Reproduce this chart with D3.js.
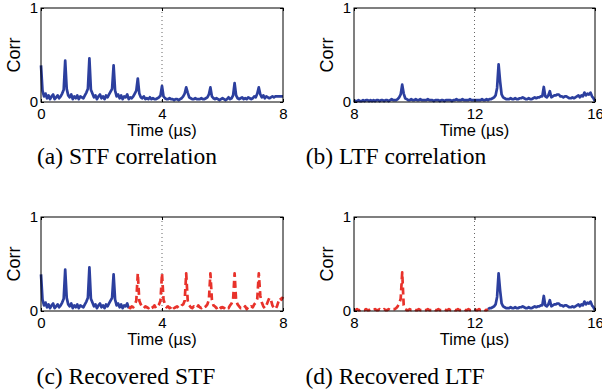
<!DOCTYPE html>
<html>
<head>
<meta charset="utf-8">
<script src="https://cdn.jsdelivr.net/npm/d3@7"></script>
<style>
  html, body { margin: 0; padding: 0; background: #fff; }
  svg { display: block; }
</style>
</head>
<body>
<div id="chart"></div>
<script>
// Sampling step of every series (µs)
const STEP = 0.05;

// STF correlation, t = 0 .. 8 µs
const stfCorr = [
  0.39, 0.12, 0.06, 0.09, 0.04, 0.07, 0.03, 0.06, 0.08, 0.03, 0.05, 0.07, 0.04, 0.06, 0.09, 0.13,
  0.44, 0.14, 0.07, 0.05, 0.08, 0.03, 0.06, 0.04, 0.07, 0.03, 0.06, 0.05, 0.04, 0.07, 0.10, 0.14,
  0.465, 0.13, 0.09, 0.05, 0.07, 0.03, 0.06, 0.08, 0.04, 0.06, 0.03, 0.07, 0.05, 0.08, 0.11, 0.14,
  0.39, 0.12, 0.06, 0.08, 0.04, 0.07, 0.03, 0.06, 0.05, 0.08, 0.03, 0.05, 0.04, 0.06, 0.09, 0.12,
  0.25, 0.09, 0.05, 0.04, 0.06, 0.03, 0.04, 0.03, 0.05, 0.03, 0.04, 0.03, 0.03, 0.04, 0.05, 0.07,
  0.17, 0.06, 0.04, 0.03, 0.03, 0.04, 0.03, 0.03, 0.02, 0.03, 0.03, 0.02, 0.03, 0.04, 0.06, 0.09,
  0.155, 0.10, 0.05, 0.04, 0.03, 0.03, 0.04, 0.03, 0.03, 0.03, 0.04, 0.03, 0.03, 0.04, 0.05, 0.08,
  0.155, 0.06, 0.04, 0.03, 0.04, 0.03, 0.02, 0.03, 0.04, 0.03, 0.02, 0.03, 0.05, 0.03, 0.04, 0.07,
  0.20, 0.07, 0.04, 0.03, 0.04, 0.05, 0.03, 0.04, 0.03, 0.05, 0.04, 0.03, 0.04, 0.06, 0.05, 0.09,
  0.155, 0.08, 0.05, 0.07, 0.04, 0.06, 0.05, 0.04, 0.05, 0.06, 0.05, 0.06, 0.06, 0.06, 0.06, 0.06,
  0.06
];

// LTF correlation, t = 8 .. 16 µs
const ltfCorr = [
  0.02, 0.01, 0.01, 0.02, 0.01, 0.01, 0.02, 0.01, 0.02, 0.02, 0.01, 0.02, 0.01, 0.02, 0.01, 0.02,
  0.02, 0.01, 0.02, 0.02, 0.01, 0.02, 0.02, 0.01, 0.02, 0.03, 0.02, 0.02, 0.02, 0.03, 0.05, 0.08,
  0.185, 0.09, 0.04, 0.03, 0.02, 0.02, 0.03, 0.02, 0.02, 0.03, 0.02, 0.02, 0.03, 0.02, 0.02, 0.02,
  0.02, 0.03, 0.02, 0.02, 0.02, 0.01, 0.02, 0.02, 0.02, 0.01, 0.02, 0.02, 0.01, 0.02, 0.02, 0.02,
  0.02, 0.01, 0.02, 0.02, 0.03, 0.02, 0.02, 0.02, 0.03, 0.02, 0.02, 0.02, 0.02, 0.03, 0.02, 0.02,
  0.02, 0.02, 0.02, 0.02, 0.02, 0.03, 0.02, 0.02, 0.03, 0.02, 0.03, 0.03, 0.04, 0.05, 0.07, 0.15,
  0.40, 0.22, 0.08, 0.05, 0.04, 0.03, 0.03, 0.03, 0.04, 0.03, 0.03, 0.04, 0.03, 0.03, 0.04, 0.04,
  0.05, 0.04, 0.03, 0.03, 0.04, 0.03, 0.03, 0.04, 0.05, 0.04, 0.05, 0.05, 0.06, 0.06, 0.16, 0.06,
  0.05, 0.07, 0.115, 0.05, 0.06, 0.07, 0.07, 0.08, 0.08, 0.06, 0.06, 0.05, 0.06, 0.06, 0.05, 0.04,
  0.04, 0.05, 0.04, 0.05, 0.06, 0.07, 0.05, 0.07, 0.06, 0.10, 0.07, 0.09, 0.08, 0.10, 0.06, 0.04,
  0.01
];

// Recovered STF (red), t = 2.9 .. 8 µs
const stfRecovered = [
  0.04, 0.03, 0.05, 0.04, 0.07, 0.11,
  0.40, 0.11, 0.07, 0.04, 0.03, 0.05, 0.04, 0.03, 0.05, 0.03, 0.04, 0.06, 0.03, 0.05, 0.07, 0.11,
  0.40, 0.12, 0.07, 0.04, 0.05, 0.03, 0.04, 0.06, 0.03, 0.04, 0.05, 0.03, 0.04, 0.06, 0.07, 0.11,
  0.40, 0.11, 0.06, 0.04, 0.03, 0.05, 0.04, 0.03, 0.06, 0.04, 0.03, 0.05, 0.04, 0.05, 0.07, 0.12,
  0.40, 0.12, 0.06, 0.05, 0.03, 0.04, 0.06, 0.03, 0.04, 0.03, 0.05, 0.04, 0.03, 0.06, 0.08, 0.12,
  0.40, 0.11, 0.07, 0.05, 0.03, 0.04, 0.03, 0.05, 0.02, 0.04, 0.03, 0.05, 0.04, 0.07, 0.09, 0.13,
  0.40, 0.16, 0.09, 0.05, 0.03, 0.06, 0.10, 0.14, 0.12, 0.06, 0.03, 0.02, 0.05, 0.10, 0.14, 0.12,
  0.15
];
const stfRecoveredStart = 2.9;

// Recovered LTF (red), t = 8 .. 12.45 µs
const ltfRecovered = [
  0.01, 0.01, 0.02, 0.01, 0.01, 0.02, 0.01, 0.01, 0.02, 0.01, 0.01, 0.02, 0.01, 0.01, 0.02, 0.01,
  0.01, 0.02, 0.01, 0.01, 0.02, 0.01, 0.01, 0.02, 0.01, 0.01, 0.02, 0.02, 0.03, 0.05, 0.08, 0.13,
  0.41, 0.06, 0.02, 0.01, 0.01, 0.02, 0.01, 0.01, 0.02, 0.01, 0.01, 0.02, 0.01, 0.01, 0.02, 0.01,
  0.01, 0.02, 0.01, 0.01, 0.01, 0.02, 0.01, 0.01, 0.02, 0.01, 0.01, 0.01, 0.02, 0.01, 0.01, 0.02,
  0.01, 0.01, 0.02, 0.01, 0.01, 0.02, 0.01, 0.01, 0.01, 0.02, 0.01, 0.01, 0.02, 0.01, 0.01, 0.01,
  0.02, 0.01, 0.01, 0.02, 0.01, 0.01, 0.02, 0.01, 0.01, 0.02
];
const ltfRecoveredStart = 8;

const stfTicks = [0, 4, 8];
const ltfTicks = [8, 12, 16];
const yTicks = [0, 1];
const captions = ['(a) STF correlation', '(b) LTF correlation', '(c) Recovered STF', '(d) Recovered LTF'];

const BLUE = '#2c3f9e';
const RED = '#e8322b';
const SANS = '"Liberation Sans", Arial, Helvetica, sans-serif';
const SERIF = '"Liberation Serif", "Times New Roman", serif';

const W = 602, H = 390;

const svg = d3.select('#chart').append('svg')
  .attr('width', W)
  .attr('height', H);

// index where the blue part of (c) ends / the blue part of (d) starts
const stfSplit = Math.round(stfRecoveredStart / STEP);
const ltfSplit = Math.round((12.45 - 8) / STEP);

const panels = [
  { left: 41, right: 283, top: 8, bottom: 102, domain: [0, 8], ticks: stfTicks, caption: captions[0], capX: 127, capY: 164,
    series: [{ values: stfCorr, start: 0, color: BLUE }] },
  { left: 354, right: 595, top: 8, bottom: 102, domain: [8, 16], ticks: ltfTicks, caption: captions[1], capX: 396, capY: 164,
    series: [{ values: ltfCorr, start: 8, color: BLUE }] },
  { left: 41, right: 283, top: 217, bottom: 311, domain: [0, 8], ticks: stfTicks, caption: captions[2], capX: 126, capY: 384,
    series: [
      { values: stfCorr.slice(0, stfSplit + 1), start: 0, color: BLUE },
      { values: stfRecovered, start: stfRecoveredStart, color: RED, dash: '7,4' }
    ] },
  { left: 354, right: 595, top: 217, bottom: 311, domain: [8, 16], ticks: ltfTicks, caption: captions[3], capX: 395, capY: 384,
    series: [
      { values: ltfRecovered, start: ltfRecoveredStart, color: RED, dash: '7,4' },
      { values: ltfCorr.slice(ltfSplit), start: 8 + ltfSplit * STEP, color: BLUE }
    ] }
];

panels.forEach(drawPanel);

function drawPanel(p) {
  const x = d3.scaleLinear().domain(p.domain).range([p.left, p.right]);
  const y = d3.scaleLinear().domain([0, 1]).range([p.bottom, p.top]);
  const g = svg.append('g');

  // dotted mid line
  const mid = p.ticks[1];
  g.append('line')
    .attr('x1', x(mid)).attr('x2', x(mid))
    .attr('y1', p.top).attr('y2', p.bottom)
    .attr('stroke', '#666')
    .attr('stroke-width', 1)
    .attr('stroke-dasharray', '1,3');

  // curves
  p.series.forEach(s => {
    const line = d3.line()
      .x((d, i) => x(s.start + i * STEP))
      .y(d => y(d));
    g.append('path')
      .attr('d', line(s.values))
      .attr('fill', 'none')
      .attr('stroke', s.color)
      .attr('stroke-width', 2.7)
      .attr('stroke-linejoin', 'round')
      .attr('stroke-dasharray', s.dash || null);
  });

  // axes (inward ticks)
  const fmt = d3.format('d');
  const xAxis = g.append('g')
    .attr('transform', `translate(0,${p.bottom})`)
    .call(d3.axisBottom(x).tickValues(p.ticks).tickFormat(fmt).tickSizeInner(-3).tickSizeOuter(0).tickPadding(6));
  g.append('g')
    .attr('transform', `translate(0,${p.top})`)
    .call(d3.axisTop(x).tickValues(p.ticks).tickSizeInner(-3).tickSizeOuter(0).tickFormat(''));
  const yAxis = g.append('g')
    .attr('transform', `translate(${p.left},0)`)
    .call(d3.axisLeft(y).tickValues(yTicks).tickFormat(fmt).tickSizeInner(-3).tickSizeOuter(0).tickPadding(3));
  g.append('g')
    .attr('transform', `translate(${p.right},0)`)
    .call(d3.axisRight(y).tickValues(yTicks).tickSizeInner(-3).tickSizeOuter(0).tickFormat(''));
  g.selectAll('.domain').remove();
  [xAxis, yAxis].forEach(a => a.selectAll('text')
    .style('font-family', SANS)
    .style('font-size', '15px')
    .style('fill', '#000'));

  // frame
  g.append('rect')
    .attr('x', p.left).attr('y', p.top)
    .attr('width', p.right - p.left).attr('height', p.bottom - p.top)
    .attr('fill', 'none')
    .attr('stroke', '#000')
    .attr('stroke-width', 1);

  // axis labels
  g.append('text')
    .attr('x', (p.left + p.right) / 2)
    .attr('y', p.bottom + 34)
    .attr('text-anchor', 'middle')
    .style('font-family', SANS)
    .style('font-size', '16.5px')
    .text('Time (µs)');
  g.append('text')
    .attr('transform', `translate(${p.left - 21},${(p.top + p.bottom) / 2}) rotate(-90)`)
    .attr('text-anchor', 'middle')
    .style('font-family', SANS)
    .style('font-size', '18px')
    .text('Corr');

  // caption
  svg.append('text')
    .attr('x', p.capX)
    .attr('y', p.capY)
    .attr('text-anchor', 'middle')
    .style('font-family', SERIF)
    .style('font-size', '23.5px')
    .text(p.caption);
}
</script>
</body>
</html>
